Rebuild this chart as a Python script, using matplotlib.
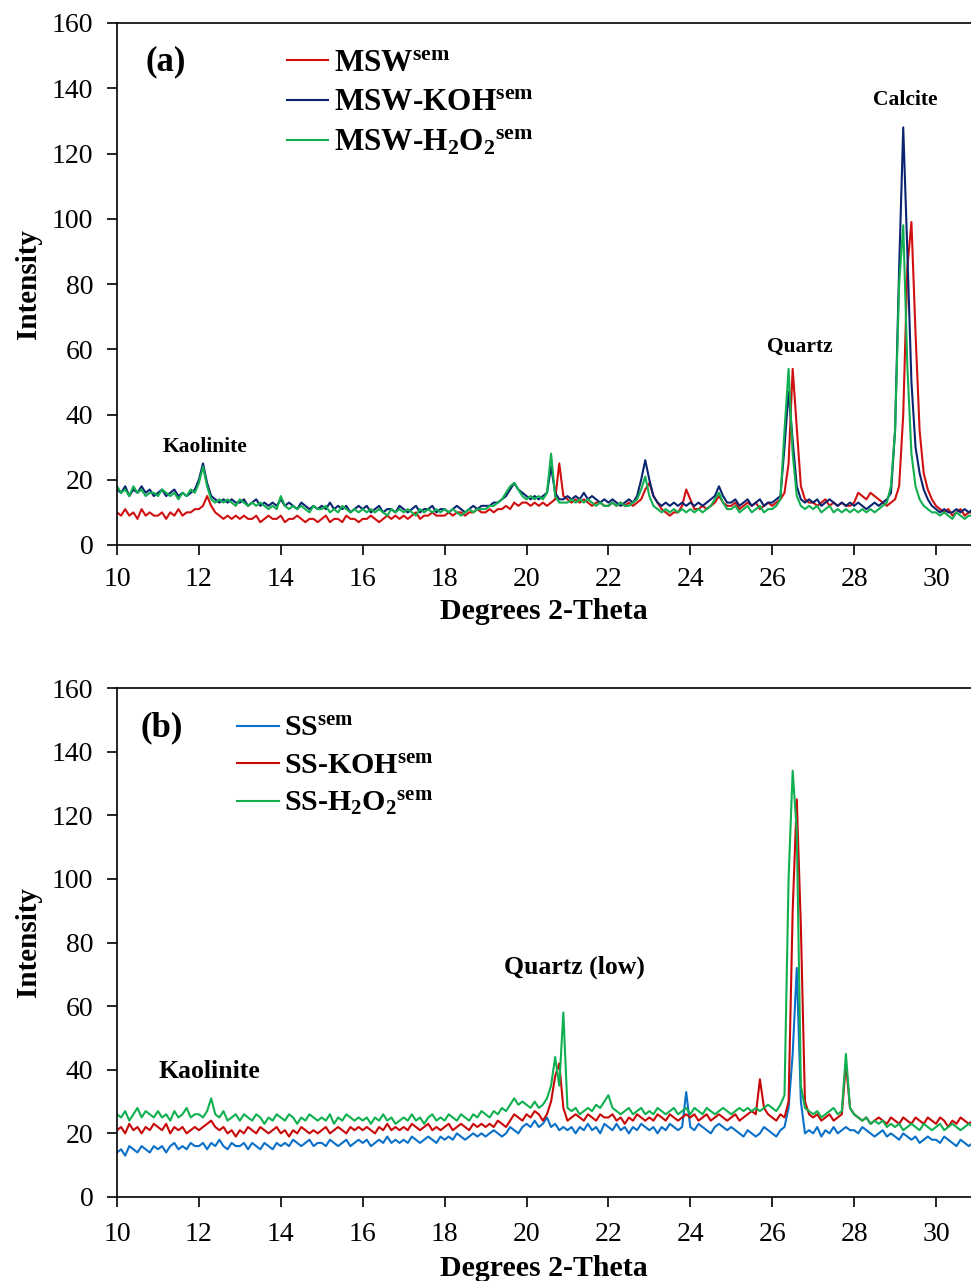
import numpy as np
import matplotlib
matplotlib.use("Agg")
import matplotlib.pyplot as plt

plt.rcParams['font.family'] = ['Liberation Serif', 'DejaVu Serif']
plt.rcParams['mathtext.fontset'] = 'custom'
plt.rcParams['mathtext.rm'] = 'Liberation Serif:bold'
plt.rcParams['mathtext.it'] = 'Liberation Serif:bold'
plt.rcParams['mathtext.bf'] = 'Liberation Serif:bold'

# 2-theta sampling grid (10.0 ... 30.9, step 0.1)
two_theta = np.round(np.arange(10.0, 30.95, 0.1), 1)

# panel (a) - MSW samples, one row per degree
msw = [
    10, 9, 11, 9, 10, 8, 11, 9, 10, 9,
    9, 10, 8, 10, 9, 11, 9, 10, 10, 11,
    11, 12, 15, 12, 10, 9, 8, 9, 8, 9,
    8, 9, 8, 8, 9, 7, 8, 9, 8, 8,
    9, 7, 8, 8, 9, 8, 7, 8, 8, 7,
    8, 9, 7, 8, 8, 7, 9, 8, 8, 7,
    8, 8, 9, 8, 7, 8, 9, 8, 9, 8,
    9, 8, 9, 10, 8, 9, 9, 10, 9, 9,
    9, 10, 9, 10, 10, 9, 10, 10, 11, 10,
    10, 11, 10, 11, 11, 12, 11, 13, 12, 13,
    13, 12, 13, 12, 13, 12, 13, 14, 25, 15,
    14, 13, 14, 13, 14, 13, 12, 13, 13, 12,
    12, 13, 12, 13, 12, 13, 12, 13, 14, 17,
    19, 15, 13, 11, 10, 9, 10, 10, 12, 17,
    14, 11, 11, 12, 11, 12, 13, 15, 13, 12,
    12, 13, 11, 12, 13, 12, 13, 11, 12, 13,
    12, 13, 14, 16, 25, 54, 36, 18, 14, 13,
    13, 12, 13, 14, 12, 13, 12, 13, 12, 12,
    13, 16, 15, 14, 16, 15, 14, 13, 12, 13,
    14, 18, 40, 85, 99, 65, 35, 22, 17, 14,
    12, 11, 10, 11, 9, 10, 11, 9, 10, 10,
]
msw_koh = [
    17, 16, 18, 15, 17, 16, 18, 16, 17, 15,
    16, 17, 15, 16, 17, 15, 16, 15, 16, 17,
    20, 25, 19, 15, 14, 13, 14, 13, 14, 13,
    13, 14, 12, 13, 14, 12, 13, 12, 13, 12,
    14, 12, 13, 12, 11, 13, 12, 11, 12, 11,
    12, 11, 13, 11, 12, 11, 12, 10, 11, 12,
    11, 12, 10, 11, 12, 10, 11, 11, 10, 12,
    11, 10, 11, 12, 10, 11, 11, 12, 10, 11,
    11, 10, 11, 12, 11, 10, 11, 12, 11, 12,
    12, 12, 13, 13, 14, 15, 17, 19, 17, 16,
    15, 14, 15, 14, 15, 16, 24, 16, 14, 14,
    15, 14, 15, 14, 16, 14, 15, 14, 13, 14,
    13, 14, 13, 12, 13, 14, 13, 15, 20, 26,
    20, 15, 13, 12, 13, 12, 13, 12, 13, 12,
    13, 12, 13, 12, 13, 14, 15, 18, 15, 13,
    13, 14, 12, 13, 14, 12, 13, 14, 12, 13,
    13, 14, 15, 30, 47, 32, 18, 14, 13, 14,
    13, 14, 12, 13, 14, 13, 12, 13, 12, 13,
    12, 13, 12, 11, 12, 13, 12, 13, 14, 16,
    35, 85, 128, 90, 50, 30, 22, 17, 14, 12,
    11, 10, 11, 10, 10, 11, 10, 11, 10, 11,
]
msw_h2o2 = [
    18, 16, 17, 15, 18, 16, 17, 15, 16, 16,
    15, 17, 16, 15, 16, 14, 16, 15, 17, 16,
    19, 24, 18, 14, 13, 14, 13, 14, 13, 12,
    14, 13, 12, 13, 12, 13, 12, 11, 12, 11,
    15, 12, 11, 12, 11, 12, 11, 10, 12, 11,
    11, 12, 10, 11, 10, 12, 11, 10, 11, 10,
    11, 10, 11, 10, 11, 10, 9, 11, 10, 11,
    10, 11, 10, 9, 11, 10, 11, 10, 11, 10,
    11, 10, 11, 10, 9, 10, 11, 10, 11, 11,
    11, 12, 12, 13, 14, 16, 18, 19, 17, 15,
    14, 15, 14, 15, 14, 16, 28, 15, 13, 13,
    13, 14, 13, 14, 13, 14, 13, 12, 13, 12,
    12, 13, 12, 13, 12, 12, 13, 14, 17, 21,
    15, 12, 11, 10, 11, 10, 11, 10, 11, 10,
    11, 10, 11, 10, 11, 12, 14, 16, 13, 11,
    11, 12, 10, 11, 12, 10, 11, 12, 10, 11,
    11, 12, 14, 35, 54, 28, 15, 12, 11, 12,
    11, 12, 10, 11, 12, 10, 11, 10, 11, 10,
    11, 10, 11, 10, 11, 10, 11, 12, 13, 18,
    35, 80, 98, 55, 28, 18, 14, 12, 11, 10,
    10, 9, 10, 9, 8, 10, 9, 8, 9, 9,
]

# panel (b) - SS samples
ss = [
    14, 15, 13, 16, 15, 14, 16, 15, 14, 16,
    15, 16, 14, 16, 17, 15, 16, 15, 17, 16,
    16, 17, 15, 17, 16, 18, 16, 15, 17, 16,
    16, 17, 15, 17, 16, 15, 17, 16, 15, 17,
    16, 17, 16, 18, 17, 16, 17, 18, 16, 17,
    17, 16, 18, 17, 16, 17, 18, 16, 17, 18,
    17, 18, 16, 17, 18, 17, 19, 17, 18, 17,
    18, 17, 19, 18, 17, 18, 19, 18, 17, 19,
    18, 19, 18, 20, 19, 18, 19, 20, 19, 20,
    19, 20, 21, 20, 19, 20, 22, 21, 20, 22,
    23, 22, 24, 22, 23, 25, 22, 23, 21, 22,
    21, 22, 20, 22, 21, 23, 21, 22, 20, 23,
    22, 21, 23, 21, 22, 20, 22, 21, 23, 22,
    21, 22, 20, 22, 21, 23, 22, 21, 22, 33,
    22, 21, 23, 22, 21, 20, 22, 23, 22, 21,
    22, 21, 20, 19, 21, 20, 19, 20, 22, 21,
    20, 19, 21, 22, 28, 45, 72, 30, 20, 21,
    20, 22, 19, 21, 20, 22, 20, 21, 22, 21,
    21, 20, 22, 21, 20, 19, 20, 21, 19, 20,
    19, 18, 20, 19, 18, 19, 17, 18, 19, 18,
    18, 17, 19, 18, 17, 16, 18, 17, 16, 17,
]
ss_koh = [
    21, 22, 20, 23, 21, 22, 20, 22, 21, 23,
    22, 21, 23, 20, 22, 21, 22, 20, 21, 22,
    21, 22, 23, 24, 22, 21, 22, 20, 21, 19,
    21, 20, 22, 21, 20, 22, 21, 20, 21, 22,
    20, 21, 19, 21, 20, 22, 21, 20, 21, 20,
    21, 22, 20, 21, 22, 21, 20, 22, 21, 22,
    21, 22, 21, 20, 22, 21, 23, 21, 22, 21,
    22, 21, 23, 22, 21, 22, 23, 21, 22, 21,
    22, 23, 21, 22, 23, 22, 21, 23, 22, 23,
    22, 23, 22, 24, 23, 22, 24, 26, 25, 24,
    26, 25, 27, 26, 24, 26, 30, 38, 42, 28,
    24, 25, 26, 25, 24, 26, 25, 24, 26, 25,
    25, 26, 24, 25, 23, 25, 24, 26, 25, 24,
    25, 24, 26, 25, 24, 26, 25, 24, 25, 26,
    25, 26, 24, 25, 26, 24, 25, 26, 25, 24,
    25, 26, 24, 25, 26, 27, 26, 37, 28, 26,
    25, 24, 26, 25, 30, 90, 125, 85, 30, 26,
    25, 26, 24, 25, 26, 24, 25, 26, 42, 28,
    26, 25, 24, 25, 23, 24, 25, 24, 23, 25,
    24, 23, 25, 24, 23, 25, 24, 23, 25, 24,
    23, 25, 24, 22, 24, 23, 25, 24, 23, 24,
]
ss_h2o2 = [
    26, 25, 27, 24, 26, 28, 25, 27, 26, 25,
    27, 25, 26, 24, 27, 25, 26, 28, 25, 26,
    26, 25, 27, 31, 26, 25, 27, 24, 25, 26,
    24, 26, 25, 24, 26, 25, 23, 25, 24, 26,
    25, 24, 26, 25, 23, 25, 24, 26, 25, 24,
    25, 24, 26, 23, 25, 24, 26, 25, 24, 25,
    24, 25, 23, 25, 24, 26, 24, 25, 23, 24,
    25, 24, 26, 24, 25, 23, 25, 26, 24, 25,
    24, 26, 25, 24, 26, 25, 24, 26, 25, 27,
    26, 25, 27, 26, 28, 27, 29, 31, 29, 30,
    29, 28, 30, 28, 29, 31, 35, 44, 35, 58,
    28, 27, 28, 26, 27, 28, 27, 29, 28, 30,
    32, 28, 27, 26, 27, 28, 26, 27, 28, 26,
    27, 26, 28, 27, 26, 27, 28, 26, 27, 28,
    26, 28, 27, 26, 28, 27, 26, 27, 28, 27,
    26, 27, 28, 27, 28, 27, 28, 27, 28, 29,
    28, 27, 29, 32, 100, 134, 115, 35, 28, 27,
    26, 27, 25, 26, 27, 28, 26, 27, 45, 28,
    26, 25, 24, 25, 23, 24, 23, 24, 22, 23,
    22, 23, 21, 22, 23, 22, 21, 23, 22, 21,
    22, 23, 21, 22, 23, 22, 21, 22, 23, 22,
]

labels_a = [r'MSW$^{\mathrm{sem}}$', r'MSW-KOH$^{\mathrm{sem}}$', r'MSW-H$_2$O$_2$$^{\mathrm{sem}}$']
labels_b = [r'SS$^{\mathrm{sem}}$', r'SS-KOH$^{\mathrm{sem}}$', r'SS-H$_2$O$_2$$^{\mathrm{sem}}$']
colors_a = ['#d01010', '#0a2470', '#10b050']
colors_b = ['#0a70c8', '#c80808', '#10b050']

W, H = 971, 1281
fig = plt.figure(figsize=(W / 100, H / 100), dpi=100)
x_right = 10 + (W - 117) / 40.95

ax_a = fig.add_axes([117 / W, (H - 545) / H, (W - 117) / W, 522 / H])
ax_b = fig.add_axes([117 / W, (H - 1197) / H, (W - 117) / W, 509 / H])


def style(ax, xpad, xlabpad):
    ax.set_xlim(10, x_right)
    ax.set_ylim(0, 160)
    ax.set_xticks(range(10, 31, 2))
    ax.set_yticks(range(0, 161, 20))
    ax.tick_params(direction='out', length=7, width=1.2, labelsize=20)
    ax.tick_params(axis='x', pad=xpad)
    ax.tick_params(axis='y', pad=10)
    for s in ax.spines.values():
        s.set_linewidth(1.2)
    ax.spines['right'].set_visible(False)
    ax.set_xlabel('Degrees 2-Theta', fontsize=21.5, fontweight='bold', labelpad=xlabpad)
    ax.set_ylabel('Intensity', fontsize=21, fontweight='bold', labelpad=7)


for y, lab, c in zip([msw, msw_koh, msw_h2o2], labels_a, colors_a):
    ax_a.plot(two_theta, y, color=c, lw=1.5, label=lab)
style(ax_a, 9, 4)
ax_a.legend(loc='upper left', bbox_to_anchor=(0.185, 0.975), frameon=False,
            prop={'size': 22.5, 'weight': 'bold'},
            handlelength=1.3, handletextpad=0.2, labelspacing=0.35, borderaxespad=0)
ax_a.text(0.033, 0.925, '(a)', transform=ax_a.transAxes, fontsize=25, fontweight='bold', va='center')
ax_a.text(12.15, 30, 'Kaolinite', fontsize=15.5, fontweight='bold', ha='center', va='center')
ax_a.text(26.68, 60.7, 'Quartz', fontsize=15.5, fontweight='bold', ha='center', va='center')
ax_a.text(29.24, 136.4, 'Calcite', fontsize=15.5, fontweight='bold', ha='center', va='center')

for y, lab, c in zip([ss, ss_koh, ss_h2o2], labels_b, colors_b):
    ax_b.plot(two_theta, y, color=c, lw=1.5, label=lab)
style(ax_b, 11, 6)
ax_b.legend(loc='upper left', bbox_to_anchor=(0.127, 0.97), frameon=False,
            prop={'size': 21.5, 'weight': 'bold'},
            handlelength=1.4, handletextpad=0.15, labelspacing=0.35, borderaxespad=0)
ax_b.text(0.027, 0.921, '(b)', transform=ax_b.transAxes, fontsize=25, fontweight='bold', va='center')
ax_b.text(12.25, 39.3, 'Kaolinite', fontsize=18.5, fontweight='bold', ha='center', va='center')
ax_b.text(21.16, 72.3, 'Quartz (low)', fontsize=18.5, fontweight='bold', ha='center', va='center')

fig.savefig('out.png', dpi=100)
